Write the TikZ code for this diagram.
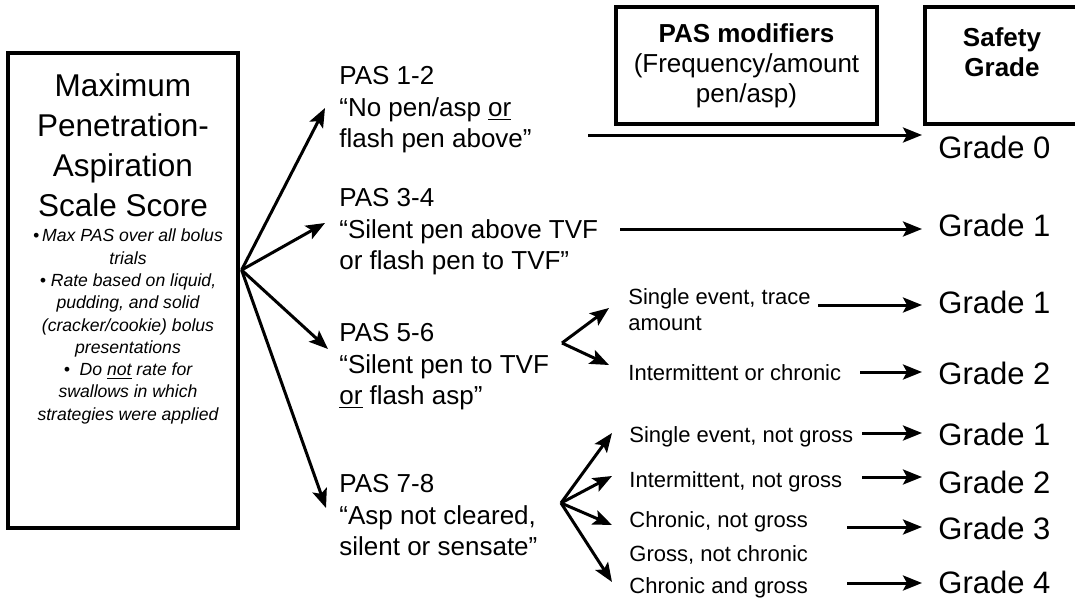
\documentclass[tikz,border=0pt]{standalone}
\usepackage{fontspec}
\setmainfont{Liberation Sans}
\usetikzlibrary{positioning,arrows.meta,calc}

\begin{document}
\begin{tikzpicture}[
        x=0.5pt, y=-0.5pt,
        box/.style={rectangle, draw, line width=1.6pt, inner sep=0pt},
        title/.style={font=\fontsize{15.75}{20}\selectfont, align=center, inner sep=0pt},
        notes/.style={font=\fontsize{8.8}{11.15}\selectfont\itshape, align=center, inner sep=0pt},
        pas/.style={font=\fontsize{13}{15.75}\selectfont, align=left, anchor=north west, inner sep=0pt},
        head/.style={font=\fontsize{13}{15}\selectfont, align=center, inner sep=0pt},
        modifier/.style={font=\fontsize{11}{13}\selectfont, align=left, anchor=west, inner sep=0pt},
        grade/.style={font=\fontsize{15.5}{18}\selectfont, anchor=west, inner sep=0pt},
        arrow/.style={-{Stealth[length=9.5pt,width=7.5pt,inset=2pt]}, line width=1.5pt},
        tograde/.style={arrow, shorten >=8pt}
    ]
        \useasboundingbox (0,0) rectangle (1075,605);
        \clip (0,0) rectangle (1075,605);

        \node[box, minimum width=115pt, minimum height=237.5pt] (score) at (123,290.5) {};
        \node[title] (scoretitle) at (123,145) {Maximum\\Penetration-\\Aspiration\\Scale Score};
        \node[notes] (scorenotes) at (128,326.5) {\textbullet\,Max PAS over all bolus\\trials\\\textbullet\ Rate based on liquid,\\pudding, and solid\\(cracker/cookie) bolus\\presentations\\\textbullet\ \ Do \underline{not} rate for\\swallows in which\\strategies were applied};

        \node[box, minimum width=130.5pt, minimum height=58.5pt] (modbox) at (746.5,65.5) {};
        \node[head] (modhead) at (746.5,66) {\textbf{PAS modifiers}\\(Frequency/amount\\pen/asp)};
        \node[box, minimum width=77pt, minimum height=58.5pt] (gradebox) at (1002,65.5) {};
        \node[head, font=\fontsize{13}{15}\selectfont\bfseries] (gradehead) at (1002,52) {Safety\\Grade};

        \node[pas] (pas12) at (339,66) {PAS 1-2\\“No pen/asp \underline{or}\\flash pen above”};
        \node[pas] (pas34) at (339,188) {PAS 3-4\\“Silent pen above TVF\\or flash pen to TVF”};
        \node[pas] (pas56) at (339,323) {PAS 5-6\\“Silent pen to TVF\\\underline{or} flash asp”};
        \node[pas] (pas78) at (339,474) {PAS 7-8\\“Asp not cleared,\\silent or sensate”};

        \node[modifier] (trace) at (628,310) {Single event, trace\\amount};
        \node[modifier] (interchron) at (628,373) {Intermittent or chronic};
        \node[modifier] (single) at (629,437) {Single event, not gross};
        \node[modifier] (intermit) at (629,482) {Intermittent, not gross};
        \node[modifier] (chronic) at (629,522) {Chronic, not gross};
        \node[modifier] (gross) at (629,555) {Gross, not chronic};
        \node[modifier] (chrongross) at (629,588) {Chronic and gross};

        \node[grade] (g0) at (938,147) {Grade 0};
        \node[grade] (g34) at (938,225) {Grade 1};
        \node[grade] (g56a) at (938,302) {Grade 1};
        \node[grade] (g56b) at (938,373) {Grade 2};
        \node[grade] (g78a) at (938,434) {Grade 1};
        \node[grade] (g78b) at (938,482) {Grade 2};
        \node[grade] (g78c) at (938,528) {Grade 3};
        \node[grade] (g78d) at (938,582) {Grade 4};

        \coordinate (fanA) at ($(score.east)+(2,-20.5)$);
        \coordinate (fanB) at (562,343);
        \coordinate (fanC) at (561,503);
        \coordinate (from12) at (588,135);
        \coordinate (from34) at (620,229);
        \coordinate (fromtrace) at (818,305);
        \coordinate (frominter) at (860,372);
        \coordinate (fromsingle) at (862,433);
        \coordinate (fromintermit) at (862,477);
        \coordinate (fromchronic) at (847,527);
        \coordinate (fromchrongross) at (847,583);

        \draw[arrow] (fanA) -- ($(pas12.north west)+(-14,42)$);
        \draw[arrow] (fanA) -- ($(pas34.north west)+(-14,35)$);
        \draw[arrow] (fanA) -- ($(pas56.north west)+(-11,26)$);
        \draw[arrow] (fanA) -- ($(pas78.north west)+(-13,34)$);

        \draw[arrow] (fanB) -- ($(trace.west)+(-19,-2)$);
        \draw[arrow] (fanB) -- ($(interchron.west)+(-19,-8)$);

        \draw[arrow] (fanC) -- ($(single.west)+(-17,-4)$);
        \draw[arrow] (fanC) -- ($(intermit.west)+(-17,-6)$);
        \draw[arrow] (fanC) -- ($(chronic.west)+(-17,3)$);
        \draw[arrow] (fanC) -- ($(chrongross.west)+(-17,-6)$);

        \draw[tograde] (from12) -- (from12 -| g0.west);
        \draw[tograde] (from34) -- (from34 -| g34.west);
        \draw[tograde] (fromtrace) -- (fromtrace -| g56a.west);
        \draw[tograde] (frominter) -- (frominter -| g56b.west);
        \draw[tograde] (fromsingle) -- (fromsingle -| g78a.west);
        \draw[tograde] (fromintermit) -- (fromintermit -| g78b.west);
        \draw[tograde] (fromchronic) -- (fromchronic -| g78c.west);
        \draw[tograde] (fromchrongross) -- (fromchrongross -| g78d.west);
    \end{tikzpicture}
\end{document}
